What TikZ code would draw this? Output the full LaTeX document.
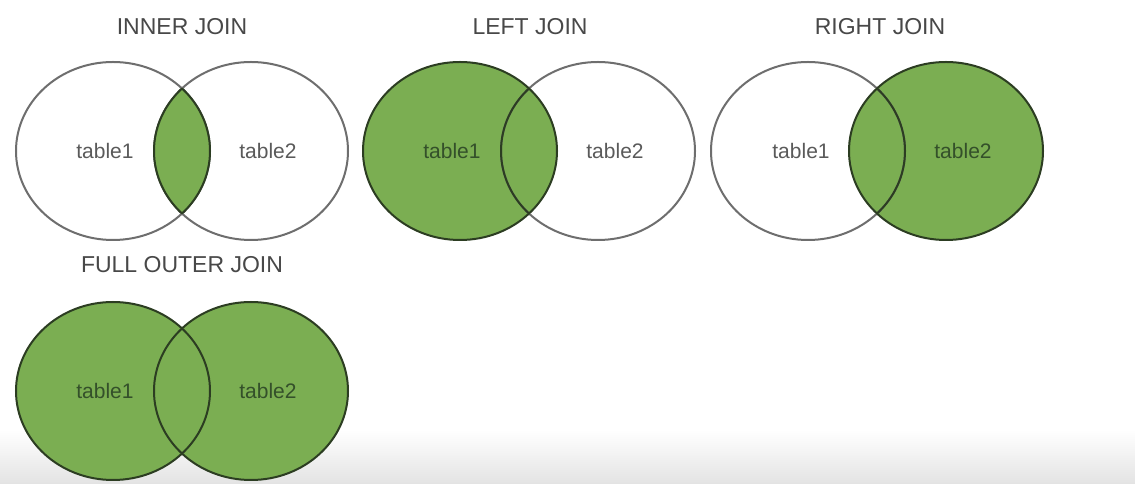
\documentclass[tikz,border=0pt]{standalone}
\usepackage{fontspec}
\setmainfont{Liberation Sans}
\definecolor{joingreen}{HTML}{7BAE52}
\definecolor{joinedge}{HTML}{2C3D22}
\definecolor{plainedge}{HTML}{6E6E6E}
\definecolor{titlegray}{HTML}{484848}
\definecolor{labelgray}{HTML}{5A5A5A}
\definecolor{labelgreen}{HTML}{34502A}
% the two sets of one diagram, left one at the scope origin
\newcommand\lefttable{(0,0) ellipse [x radius=97pt, y radius=89pt]}
\newcommand\righttable{(138,0) ellipse [x radius=97pt, y radius=89pt]}
\tikzset{
  jointitle/.style={text=titlegray, font=\fontsize{23}{23}\selectfont},
  tablelabel/.style={text=labelgray, font=\fontsize{21}{21}\selectfont},
  tablelabelon/.style={tablelabel, text=labelgreen},
  plainline/.style={draw=plainedge, line width=2pt},
  greenline/.style={draw=joinedge, line width=2pt},
}
\begin{document}
\begin{tikzpicture}[x=1pt, y=1pt]
    \useasboundingbox (0,0) rectangle (1135,484);
    \fill[white] (0,0) rectangle (1135,484);
    \shade[top color=white, bottom color=black!11] (0,0) rectangle (1135,54);

    % inner join
    \begin{scope}[shift={(113,333)}]
        \draw[plainline] \lefttable;
        \draw[plainline] \righttable;
        \begin{scope}
            \clip \lefttable;
            \fill[joingreen] \righttable;
            \draw[greenline] \righttable;
        \end{scope}
        \begin{scope}
            \clip \righttable;
            \draw[greenline] \lefttable;
        \end{scope}
        \node[jointitle] (innertitle) at (69,124) {INNER JOIN};
        \node[tablelabel] (innerone) at (-8,0) {table1};
        \node[tablelabel] (innertwo) at (155,0) {table2};
    \end{scope}

    % left join
    \begin{scope}[shift={(460,333)}]
        \fill[joingreen] \lefttable;
        \draw[plainline] \righttable;
        \draw[greenline] \lefttable;
        \begin{scope}
            \clip \lefttable;
            \draw[greenline] \righttable;
        \end{scope}
        \node[jointitle] (lefttitle) at (70,124) {LEFT JOIN};
        \node[tablelabelon] (leftone) at (-8,0) {table1};
        \node[tablelabel] (lefttwo) at (155,0) {table2};
    \end{scope}

    % right join
    \begin{scope}[shift={(808,333)}]
        \fill[joingreen] \righttable;
        \draw[plainline] \lefttable;
        \draw[greenline] \righttable;
        \begin{scope}
            \clip \righttable;
            \draw[greenline] \lefttable;
        \end{scope}
        \node[jointitle] (righttitle) at (72,124) {RIGHT JOIN};
        \node[tablelabel] (rightone) at (-7,0) {table1};
        \node[tablelabelon] (righttwo) at (155,0) {table2};
    \end{scope}

    % full outer join
    \begin{scope}[shift={(113,93)}]
        \fill[joingreen] \lefttable;
        \fill[joingreen] \righttable;
        \draw[greenline] \lefttable;
        \draw[greenline] \righttable;
        \node[jointitle] (fulltitle) at (69,126) {FULL OUTER JOIN};
        \node[tablelabelon] (fullone) at (-8,0) {table1};
        \node[tablelabelon] (fulltwo) at (155,0) {table2};
    \end{scope}
\end{tikzpicture}
\end{document}
